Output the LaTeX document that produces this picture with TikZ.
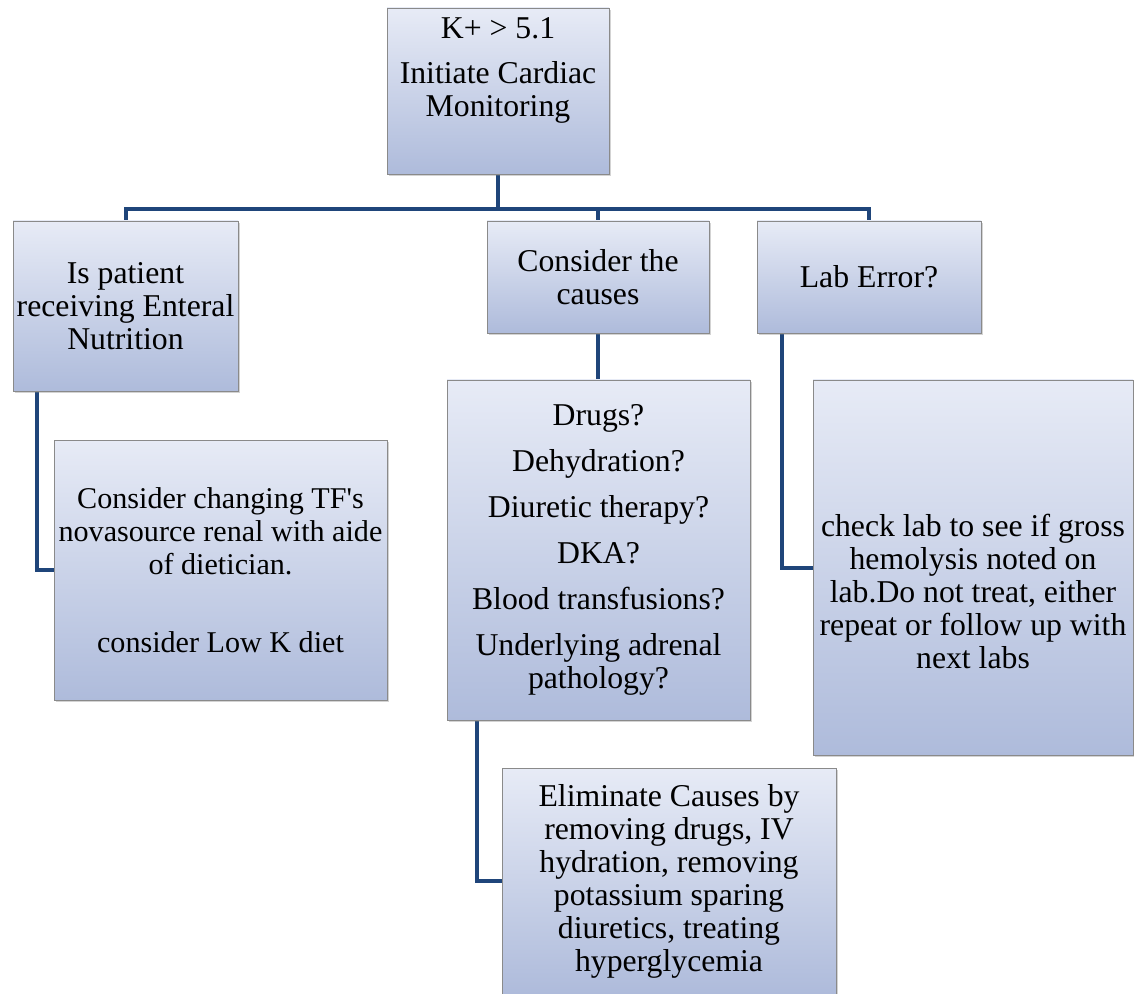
\documentclass[tikz,border=0pt]{standalone}
\usepackage{fontspec}
\setmainfont{Liberation Serif}[Ligatures=TeXOff]
\usepackage{xcolor}
\usepackage{tikz}
\usetikzlibrary{positioning,shadows,backgrounds,calc}

\definecolor{boxtop}{HTML}{E7EBF6}
\definecolor{boxbot}{HTML}{AEBBDB}
\definecolor{boxline}{HTML}{8A8A8A}
\definecolor{linkblue}{HTML}{1F457A}
\newcommand{\pxu}{0.75pt}

\begin{document}
\begin{tikzpicture}[
      x=0.75pt, y=-0.75pt,
      base/.style={rectangle, draw=boxline, line width=0.6pt, top color=boxtop,
        bottom color=boxbot, align=center, inner sep=0pt,
        font=\fontsize{23.8}{24.75}\selectfont,
        drop shadow={opacity=0.35, shadow xshift=1.5pt, shadow yshift=-1.5pt}},
      link/.style={draw=linkblue, line width=3pt},
    ]
      \useasboundingbox (0,0) rectangle (1134,994);

      % top
      \node[base, minimum width=222*\pxu, minimum height=166*\pxu] (kplus) at (498,91)
        {K+ > 5.1\\[9pt]Initiate Cardiac\\Monitoring\\[3.75pt]\strut};

      % 2nd row
      \node[base, minimum width=225*\pxu, minimum height=170*\pxu] (enteral) at (125.5,306)
        {Is patient\\receiving Enteral\\Nutrition};
      \node[base, minimum width=222*\pxu, minimum height=112*\pxu] (causes) at (598,277)
        {Consider the\\causes};
      \node[base, minimum width=224*\pxu, minimum height=112*\pxu] (laberr) at (869,277)
        {Lab Error?};

      % 3rd row
      \node[base, minimum width=333*\pxu, minimum height=260*\pxu,
            font=\fontsize{22.6}{24.75}\selectfont] (dietbox) at (220.5,570)
        {Consider changing TF's\\novasource renal with aide\\of dietician.\\[34pt]consider Low K diet};
      \node[base, minimum width=303*\pxu, minimum height=340*\pxu] (causelist) at (598.5,550)
        {Drugs?\\[9.75pt]Dehydration?\\[9.75pt]Diuretic therapy?\\[9.75pt]DKA?\\[9.75pt]Blood transfusions?\\[9.75pt]Underlying adrenal\\pathology?};
      \node[base, minimum width=320*\pxu, minimum height=375*\pxu] (labcheck) at (973,567.5)
        {\strut\\[11.25pt]check lab to see if gross\\hemolysis noted on\\lab.Do not treat, either\\repeat or follow up with\\next labs};

      % bottom
      \node[base, minimum width=334*\pxu, minimum height=226*\pxu] (elimbox) at (669,881)
        {Eliminate Causes by\\removing drugs, IV\\hydration, removing\\potassium sparing\\diuretics, treating\\hyperglycemia};

      % connectors
      \begin{scope}[on background layer]
        \coordinate (split) at (kplus.south |- 0,209);
        \draw[link] (kplus.south) -- (split);
        \draw[link] (enteral.north) |- (split) -| (laberr.north);
        \draw[link] (split) -| (causes.north);
        \draw[link] (causes.south) -- (causes.south |- causelist.north);
        \draw[link] ($ (enteral.south west) + (24,0) $) |- (dietbox.west);
        \draw[link] ($ (laberr.south west) + (25,0) $) |- (labcheck.west);
        \draw[link] ($ (causelist.south west) + (30,0) $) |- (elimbox.west);
      \end{scope}

    \end{tikzpicture}
\end{document}
